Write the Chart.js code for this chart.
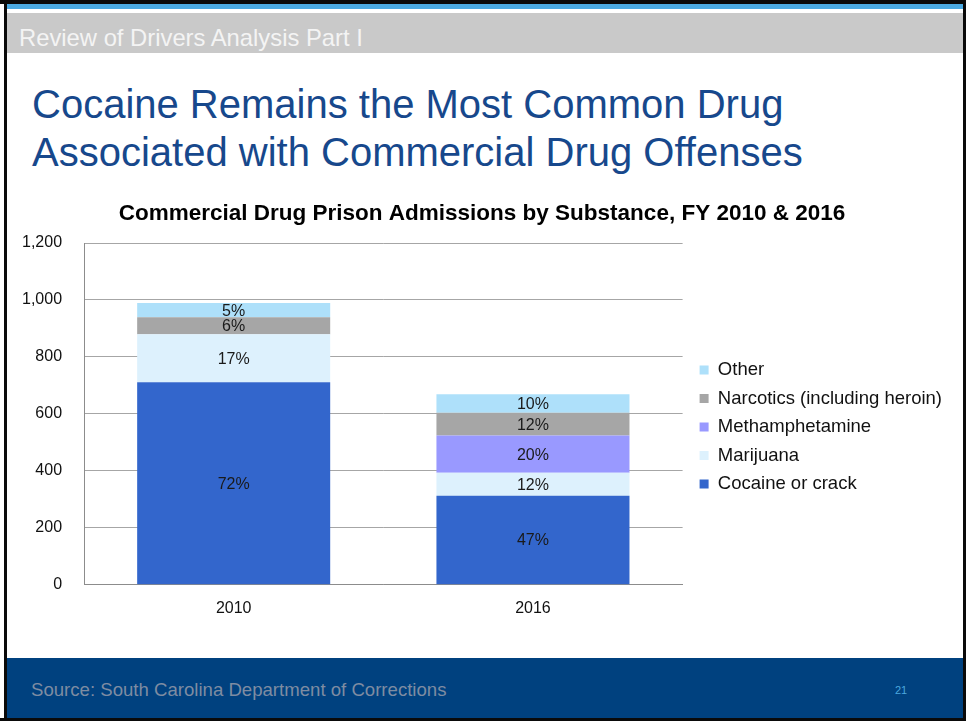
<!DOCTYPE html>
<html>
<head>
<meta charset="utf-8">
<script src="https://cdn.jsdelivr.net/npm/chart.js@4.4.1/dist/chart.umd.min.js"></script>
<style>
  html, body { margin:0; padding:0; width:966px; height:721px; overflow:hidden; background:#fff; font-family:"Liberation Sans", Arial, sans-serif; }
  .abs { position:absolute; }
  #topBlack { left:0; top:0; width:966px; height:4px; background:#0a0a0a; }
  #blueStripe { left:7px; top:4px; width:956px; height:5px; background:#4BAAE2; }
  #grayBand { left:7px; top:13px; width:956px; height:40px; background:#C9C9C9; }
  #grayText { left:19px; top:24px; font-size:23.8px; color:#F4F4F4; line-height:27px; white-space:nowrap; }
  #leftBlack { left:4px; top:0; width:3px; height:721px; background:#0a0a0a; }
  #rightBlack { left:963px; top:0; width:3px; height:721px; background:#0a0a0a; }
  #bottomBlack { left:0; top:718px; width:966px; height:3px; background:#0a0a0a; }
  #heading { left:32px; top:80px; font-size:40px; line-height:48px; color:#17488C; white-space:nowrap; }
  #footer { left:7px; top:658px; width:956px; height:60px; background:#00417F; }
  #source { left:31px; top:679px; font-size:18.6px; color:#7E8CA2; white-space:nowrap; line-height:22px; }
  #pageNum { left:895px; top:684px; font-size:11px; color:#4BA7DE; line-height:13px; }
  #chartWrap { left:7px; top:190px; width:950px; height:450px; }
</style>
</head>
<body>
<div class="abs" id="topBlack"></div>
<div class="abs" id="blueStripe"></div>
<div class="abs" id="grayBand"></div>
<div class="abs" id="grayText">Review of Drivers Analysis Part I</div>
<div class="abs" id="heading">Cocaine Remains the Most Common Drug<br>Associated with Commercial Drug Offenses</div>
<div class="abs" id="chartWrap"><canvas id="c" width="950" height="450"></canvas></div>
<div class="abs" id="footer"></div>
<div class="abs" id="source">Source: South Carolina Department of Corrections</div>
<div class="abs" id="pageNum">21</div>
<div class="abs" id="leftBlack"></div>
<div class="abs" id="rightBlack"></div>
<div class="abs" id="bottomBlack"></div>
<script>
const years = ["2010", "2016"];
const cocaine = [711, 313];
const marijuana = [169, 80];
const methamphetamine = [0, 131];
const narcotics = [59, 80];
const other = [50, 65];
const yTicks = [0, 200, 400, 600, 800, 1000, 1200];

const FONT = "'Liberation Sans', Arial, sans-serif";

const pctLabels = {
  id: 'pctLabels',
  afterDatasetsDraw(chart) {
    const ctx = chart.ctx;
    const ds = chart.data.datasets;
    const totals = chart.data.labels.map((_, i) => ds.reduce((s, d) => s + d.data[i], 0));
    ctx.save();
    ctx.font = "16px " + FONT;
    ctx.fillStyle = "#1a1a1a";
    ctx.textAlign = "center";
    ctx.textBaseline = "middle";
    ds.forEach((d, di) => {
      const meta = chart.getDatasetMeta(di);
      meta.data.forEach((el, i) => {
        const v = d.data[i];
        if (!v) return;
        const pct = Math.round(v / totals[i] * 100) + "%";
        ctx.fillText(pct, el.x, (el.y + el.base) / 2 + 1);
      });
    });
    ctx.restore();
  }
};

// small nudges of the title and legend boxes after layout
const nudge = {
  id: 'nudge',
  afterLayout(chart) {
    if (chart.titleBlock) { chart.titleBlock.left += 9.5; chart.titleBlock.right += 9.5; }
    if (chart.legend) { chart.legend.left += 7; chart.legend.right += 7; }
  }
};

new Chart(document.getElementById('c'), {
  type: 'bar',
  data: {
    labels: years,
    datasets: [
      { label: 'Cocaine or crack', data: cocaine, backgroundColor: '#3366CC' },
      { label: 'Marijuana', data: marijuana, backgroundColor: '#DDF1FD' },
      { label: 'Methamphetamine', data: methamphetamine, backgroundColor: '#9999FF' },
      { label: 'Narcotics (including heroin)', data: narcotics, backgroundColor: '#A6A6A6' },
      { label: 'Other', data: other, backgroundColor: '#AEE0FA' }
    ]
  },
  options: {
    responsive: false,
    animation: false,
    layout: { padding: { left: -7, right: 12, top: 0, bottom: 8 } },
    datasets: { bar: { categoryPercentage: 1, barPercentage: 0.645 } },
    scales: {
      x: {
        stacked: true,
        grid: { display: false, drawTicks: false },
        border: { display: true, color: '#8C8C8C', width: 1 },
        ticks: { font: { size: 16, family: FONT }, color: '#111', padding: 14 }
      },
      y: {
        stacked: true,
        min: 0, max: 1200,
        afterBuildTicks(axis) { axis.ticks = yTicks.map(v => ({ value: v })); },
        grid: { color: '#A6A6A6', drawTicks: false, lineWidth: 1 },
        border: { display: true, color: '#8C8C8C', width: 1 },
        ticks: { font: { size: 16, family: FONT }, color: '#111', padding: 22,
                 callback: v => v.toLocaleString('en-US') }
      }
    },
    plugins: {
      title: {
        display: true,
        text: 'Commercial Drug Prison Admissions by Substance, FY 2010 & 2016',
        font: { size: 22.5, weight: 'bold', family: FONT, lineHeight: 1.2 },
        color: '#000',
        padding: { top: 10, bottom: 16 }
      },
      legend: {
        position: 'right',
        reverse: true,
        maxWidth: 320,
        title: { display: true, text: ' ', font: { size: 10, family: FONT }, padding: { top: 10, bottom: 10 } },
        labels: {
          boxWidth: 9, boxHeight: 9, padding: 10,
          font: { size: 18.5, family: FONT }, color: '#111'
        }
      },
      tooltip: { enabled: false }
    }
  },
  plugins: [pctLabels, nudge]
});
</script>
</body>
</html>
